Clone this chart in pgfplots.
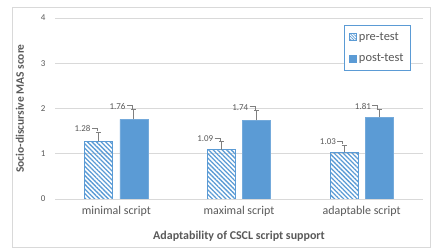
\documentclass[border=0pt]{standalone}
\usepackage{pgfplots}
\pgfplotsset{compat=1.18}
\usepackage{fontspec}
\setmainfont{Carlito}
\usetikzlibrary{patterns.meta}
\definecolor{barblue}{HTML}{5B9BD5}
\definecolor{txtgray}{HTML}{595959}
\definecolor{gridgray}{HTML}{D9D9D9}
\definecolor{errgray}{HTML}{7F7F7F}
\newcommand{\leader}{\hspace{1.5bp}\textcolor{errgray}{\rule[3.2bp]{5bp}{0.6bp}\rule[0.6bp]{0.6bp}{3.2bp}}}
\begin{document}
\begin{tikzpicture}
\path[use as bounding box] (-55bp,-50bp) rectangle (377bp,199bp);
\draw[gridgray, line width=0.8bp] (-43bp,-48bp) rectangle (375bp,192bp);
\begin{axis}[
  at={(0,0)}, anchor=south west,
  scale only axis,
  width=368bp, height=181bp,
  xmin=-0.5, xmax=2.5,
  ymin=0, ymax=4,
  ytick={0,1,2,3,4},
  xtick={0,1,2},
  xticklabels={minimal script, maximal script, adaptable script},
  axis line style={draw=none},
  major tick length=0pt,
  ymajorgrids,
  grid style={gridgray, line width=0.8bp},
  /pgf/number format/assume math mode=true,
  yticklabel style={font=\fontsize{9}{10}\selectfont, text=txtgray, xshift=-6bp},
  xticklabel style={font=\fontsize{12}{13}\selectfont, text=txtgray, yshift=-4bp},
  xlabel={Adaptability of CSCL script support},
  ylabel={Socio-discursive MAS score},
  xlabel style={font=\bfseries\fontsize{12}{13}\selectfont, text=txtgray, at={(axis description cs:0.5,0)}, anchor=center, yshift=-37bp},
  ylabel style={font=\bfseries\fontsize{11.5}{13}\selectfont, text=txtgray, at={(axis description cs:0,0.5)}, anchor=center, yshift=35bp},
  legend style={at={(rel axis cs:0.785,0.961)}, anchor=north west, draw=barblue, line width=0.8bp, fill=white,
     font=\fontsize{12.5}{14}\selectfont, text=txtgray, row sep=8bp, inner xsep=5bp, inner ysep=5bp,
     legend cell align=left},
  ybar, bar width=28bp,
  error bars/y dir=plus,
  error bars/y explicit,
  error bars/error bar style={errgray, line width=1bp},
  error bars/error mark options={errgray, line width=1bp, mark size=2.5bp, rotate=90},
]
\addplot[bar shift=-17.5bp, draw=barblue, line width=0.8bp,
  pattern={Lines[angle=-45,distance=3.2bp,line width=1.3bp]}, pattern color=barblue,
  legend image code/.code={\draw[barblue, line width=0.6bp, pattern={Lines[angle=-45,distance=2bp,line width=0.7bp]}, pattern color=barblue] (0bp,-3.5bp) rectangle (7bp,3.5bp);}]
  coordinates {(0,1.28) +- (0,0.19) (1,1.09) +- (0,0.17) (2,1.03) +- (0,0.16)};
\addlegendentry{pre-test}
\addplot[bar shift=17.5bp, draw=barblue!85!white, line width=0.5bp, fill=barblue,
  legend image code/.code={\fill[barblue] (0bp,-3.5bp) rectangle (7bp,3.5bp);}]
  coordinates {(0,1.76) +- (0,0.21) (1,1.74) +- (0,0.21) (2,1.81) +- (0,0.16)};
\addlegendentry{post-test}
% data labels
\addplot[bar shift=0pt, draw=none, fill=none, forget plot, point meta=explicit symbolic,
  nodes near coords={\pgfplotspointmeta\leader},
  nodes near coords style={anchor=south east, inner sep=0pt, xshift=-18.5bp, yshift=0.3bp,
    font=\fontsize{9}{10}\selectfont, text=txtgray}]
  coordinates {(0,1.47)[1.28] (1,1.26)[1.09] (2,1.19)[1.03]};
\addplot[bar shift=0pt, draw=none, fill=none, forget plot, point meta=explicit symbolic,
  nodes near coords={\pgfplotspointmeta\leader},
  nodes near coords style={anchor=south east, inner sep=0pt, xshift=16.5bp, yshift=0.3bp,
    font=\fontsize{9}{10}\selectfont, text=txtgray}]
  coordinates {(0,1.97)[1.76] (1,1.95)[1.74] (2,1.97)[1.81]};
\end{axis}
\end{tikzpicture}
\end{document}
